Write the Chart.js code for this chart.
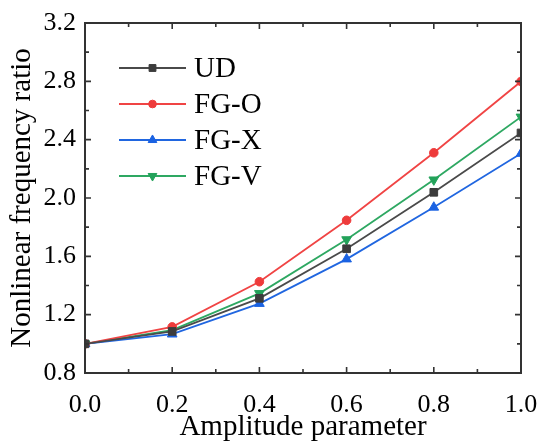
<!DOCTYPE html>
<html>
<head>
<meta charset="utf-8">
<script src="https://cdn.jsdelivr.net/npm/chart.js@4.4.1/dist/chart.umd.min.js"></script>
<style>
  html, body { margin: 0; padding: 0; background: #fff; }
  #wrap { width: 538px; height: 444px; }
</style>
</head>
<body>
<div id="wrap"><canvas id="c" width="538" height="444"></canvas></div>
<script>
// Amplitude parameter (x) and nonlinear frequency ratio for each beam type
const amplitude = [0.0, 0.2, 0.4, 0.6, 0.8, 1.0];
const seriesNames = ['UD', 'FG-O', 'FG-X', 'FG-V'];
const ud  = [1.000, 1.085, 1.312, 1.652, 2.039, 2.446];
const fgO = [1.000, 1.116, 1.426, 1.847, 2.310, 2.799];
const fgX = [1.000, 1.066, 1.276, 1.581, 1.936, 2.305];
const fgV = [1.000, 1.094, 1.346, 1.715, 2.125, 2.556];
const xTicks = [0.0, 0.2, 0.4, 0.6, 0.8, 1.0];
const yTicks = [0.8, 1.2, 1.6, 2.0, 2.4, 2.8, 3.2];

const SERIF = "'Liberation Serif', 'Times New Roman', serif";

function pts(ys) { return amplitude.map((x, i) => ({ x: x, y: ys[i] })); }

const styles = [
  { line: '#4a4a4a', mark: '#3c3c3c', shape: 'rect',     rot: 0,   r: 5.4 },
  { line: '#f04444', mark: '#ee3b3b', shape: 'circle',   rot: 0,   r: 4.3 },
  { line: '#2066e0', mark: '#1a62e2', shape: 'triangle', rot: 0,   r: 5.6 },
  { line: '#2ea862', mark: '#23a25a', shape: 'triangle', rot: 180, r: 5.6 }
];
const values = [ud, fgO, fgX, fgV];

const datasets = values.map((v, i) => ({
  label: seriesNames[i],
  data: pts(v),
  borderColor: styles[i].line,
  borderWidth: 1.8,
  backgroundColor: styles[i].mark,
  pointBackgroundColor: styles[i].mark,
  pointBorderColor: styles[i].mark,
  pointBorderWidth: 1,
  pointStyle: styles[i].shape,
  pointRotation: styles[i].rot,
  pointRadius: styles[i].r,
  tension: 0,
  clip: 0
}));

// Frame with inward major and minor ticks on all four sides
const framePlugin = {
  id: 'frame',
  afterDatasetsDraw(chart) {
    const { ctx, chartArea: a, scales } = chart;
    const xs = scales.x, ys = scales.y;
    ctx.save();
    ctx.strokeStyle = '#333';
    ctx.lineWidth = 2;
    ctx.strokeRect(a.left, a.top, a.right - a.left, a.bottom - a.top);
    ctx.lineWidth = 1.6;
    ctx.beginPath();
    const major = 6, minor = 4;
    xTicks.forEach((t, i) => {
      const px = xs.getPixelForValue(t);
      ctx.moveTo(px, a.bottom); ctx.lineTo(px, a.bottom - major);
      ctx.moveTo(px, a.top); ctx.lineTo(px, a.top + major);
      if (i < xTicks.length - 1) {
        const mx = xs.getPixelForValue((t + xTicks[i + 1]) / 2);
        ctx.moveTo(mx, a.bottom); ctx.lineTo(mx, a.bottom - minor);
        ctx.moveTo(mx, a.top); ctx.lineTo(mx, a.top + minor);
      }
    });
    yTicks.forEach((t, i) => {
      const py = ys.getPixelForValue(t);
      ctx.moveTo(a.left, py); ctx.lineTo(a.left + major, py);
      ctx.moveTo(a.right, py); ctx.lineTo(a.right - major, py);
      if (i < yTicks.length - 1) {
        const my = ys.getPixelForValue((t + yTicks[i + 1]) / 2);
        ctx.moveTo(a.left, my); ctx.lineTo(a.left + minor, my);
        ctx.moveTo(a.right, my); ctx.lineTo(a.right - minor, my);
      }
    });
    ctx.stroke();
    ctx.restore();
  }
};

// Legend inside the plot: line segment with the series marker, then the name
const legendPlugin = {
  id: 'innerLegend',
  afterDraw(chart, args, opts) {
    const { ctx } = chart;
    ctx.save();
    chart.data.datasets.forEach((ds, i) => {
      const y = opts.y0 + i * opts.dy;
      ctx.strokeStyle = ds.borderColor;
      ctx.lineWidth = 1.8;
      ctx.beginPath();
      ctx.moveTo(opts.x0, y); ctx.lineTo(opts.x1, y);
      ctx.stroke();
      ctx.fillStyle = ds.pointBackgroundColor;
      ctx.strokeStyle = ds.pointBorderColor;
      ctx.lineWidth = 1;
      Chart.helpers.drawPoint(ctx, {
        pointStyle: ds.pointStyle,
        rotation: ds.pointRotation,
        radius: ds.pointRadius * 0.9,
        borderWidth: 1
      }, (opts.x0 + opts.x1) / 2, y);
      ctx.fillStyle = '#000';
      ctx.font = '29px ' + SERIF;
      ctx.textBaseline = 'middle';
      ctx.textAlign = 'left';
      ctx.fillText(ds.label, opts.tx, y + 1);
    });
    ctx.restore();
  }
};

new Chart(document.getElementById('c'), {
  type: 'line',
  data: { datasets: datasets },
  options: {
    responsive: false,
    animation: false,
    devicePixelRatio: 1,
    layout: { padding: { top: 23, right: 17, left: 0, bottom: 0 } },
    plugins: {
      legend: { display: false },
      tooltip: { enabled: false },
      innerLegend: { x0: 119, x1: 186, tx: 194, y0: 68, dy: 36 }
    },
    scales: {
      x: {
        type: 'linear',
        min: 0, max: 1,
        afterFit(s) { s.height = 71; s.paddingLeft = 0; s.paddingRight = 0; },
        afterBuildTicks(s) { s.ticks = xTicks.map(v => ({ value: v })); },
        grid: { display: false, drawTicks: false },
        border: { display: false },
        ticks: {
          color: '#000',
          font: { family: SERIF, size: 26 },
          padding: 17,
          maxRotation: 0,
          callback: v => v.toFixed(1)
        },
        title: {
          display: true,
          text: 'Amplitude parameter',
          color: '#000',
          font: { family: SERIF, size: 29 },
          padding: { top: 0, bottom: -1 }
        }
      },
      y: {
        type: 'linear',
        min: 0.8, max: 3.2,
        afterFit(s) { s.width = 85; s.paddingTop = 0; s.paddingBottom = 0; },
        afterBuildTicks(s) { s.ticks = yTicks.map(v => ({ value: v })); },
        grid: { display: false, drawTicks: false },
        border: { display: false },
        ticks: {
          color: '#000',
          font: { family: SERIF, size: 26 },
          padding: 9,
          callback: v => v.toFixed(1)
        },
        title: {
          display: true,
          text: 'Nonlinear frequency ratio',
          color: '#000',
          font: { family: SERIF, size: 29 },
          padding: { top: 5, bottom: 0 }
        }
      }
    }
  },
  plugins: [framePlugin, legendPlugin]
});
</script>
</body>
</html>
